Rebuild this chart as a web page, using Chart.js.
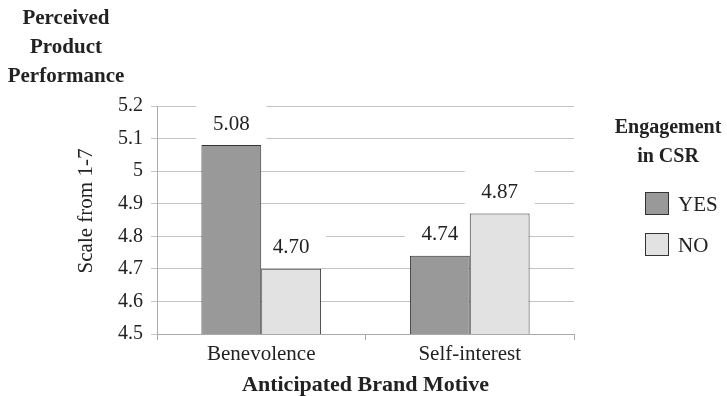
<!DOCTYPE html>
<html>
<head>
<meta charset="utf-8">
<script src="https://cdn.jsdelivr.net/npm/chart.js@4/dist/chart.umd.min.js"></script>
<style>
  html, body { margin: 0; padding: 0; background: #fff; }
  #wrap { width: 727px; height: 396px; position: relative; }
</style>
</head>
<body>
<div id="wrap"><canvas id="c" width="727" height="396"></canvas></div>
<script>
// Brand motive categories and mean perceived performance per CSR group
const categories = ['Benevolence', 'Self-interest'];
const yesValues = [5.08, 4.74];
const noValues = [4.70, 4.87];
const seriesNames = ['YES', 'NO'];
const yTicks = [4.5, 4.6, 4.7, 4.8, 4.9, 5, 5.1, 5.2];

const SERIF = '"Liberation Serif", "Times New Roman", serif';

// Value labels: white backing boxes go under the bars, text goes on top
const valueLabels = {
  id: 'valueLabels',
  beforeDatasetsDraw(chart) {
    const ctx = chart.ctx;
    ctx.save();
    ctx.fillStyle = '#fff';
    chart.data.datasets.forEach((ds, di) => {
      chart.getDatasetMeta(di).data.forEach(bar => {
        ctx.fillRect(bar.x - 35, bar.y - 46, 70, 45);
      });
    });
    ctx.restore();
  },
  afterDatasetsDraw(chart) {
    const ctx = chart.ctx;
    ctx.save();
    ctx.font = '21px ' + SERIF;
    ctx.textAlign = 'center';
    ctx.textBaseline = 'middle';
    ctx.fillStyle = '#222';
    chart.data.datasets.forEach((ds, di) => {
      chart.getDatasetMeta(di).data.forEach((bar, i) => {
        ctx.fillText(ds.data[i].toFixed(2), bar.x, bar.y - 21);
      });
    });
    ctx.restore();
  }
};

// Titles, axis captions and legend
const annotations = {
  id: 'annotations',
  afterDraw(chart) {
    const ctx = chart.ctx;
    const area = chart.chartArea;
    ctx.save();
    ctx.fillStyle = '#222';
    ctx.textAlign = 'center';
    ctx.textBaseline = 'middle';
    ctx.font = 'bold 21px ' + SERIF;
    ['Perceived', 'Product', 'Performance'].forEach((t, i) => ctx.fillText(t, 66, 19 + i * 29));

    ctx.font = 'bold 22px ' + SERIF;
    ctx.fillText('Anticipated Brand Motive', (area.left + area.right) / 2, 385);

    ctx.save();
    ctx.translate(86, 211);
    ctx.rotate(-Math.PI / 2);
    ctx.font = '21px ' + SERIF;
    ctx.fillText('Scale from 1-7', 0, 0);
    ctx.restore();

    ctx.font = 'bold 20px ' + SERIF;
    ctx.fillText('Engagement', 668, 128);
    ctx.fillText('in CSR', 668, 157);

    ctx.textAlign = 'left';
    ctx.font = '21px ' + SERIF;
    chart.data.datasets.forEach((ds, i) => {
      const y = 192 + i * 41;
      ctx.fillStyle = ds.backgroundColor;
      ctx.fillRect(645, y, 24, 23);
      ctx.strokeStyle = '#333';
      ctx.lineWidth = 1;
      ctx.strokeRect(645.5, y + 0.5, 23, 22);
      ctx.fillStyle = '#222';
      ctx.fillText(seriesNames[i], 678, y + 13);
    });
    ctx.restore();
  }
};

new Chart(document.getElementById('c'), {
  type: 'bar',
  data: {
    labels: categories,
    datasets: [
      { label: seriesNames[0], data: yesValues, backgroundColor: '#999999', borderColor: '#333333', borderWidth: 1 },
      { label: seriesNames[1], data: noValues, backgroundColor: '#e2e2e2', borderColor: '#333333', borderWidth: 1 }
    ]
  },
  options: {
    responsive: false,
    animation: false,
    devicePixelRatio: 1,
    layout: { padding: { top: 106, right: 153, left: 0, bottom: 0 } },
    categoryPercentage: 0.574,
    barPercentage: 1,
    plugins: { legend: { display: false }, tooltip: { enabled: false } },
    scales: {
      x: {
        grid: { drawOnChartArea: false, drawTicks: true, tickLength: 6, color: '#aaaaaa' },
        border: { color: '#aaaaaa' },
        ticks: { color: '#222', font: { family: SERIF, size: 21 }, padding: 2 },
        afterFit(s) { s.height = 62; }
      },
      y: {
        min: 4.5,
        max: 5.2,
        afterBuildTicks(s) { s.ticks = yTicks.map(v => ({ value: v })); },
        grid: { color: '#c4c4c4', tickLength: 6 },
        border: { color: '#aaaaaa' },
        ticks: {
          color: '#222',
          font: { family: SERIF, size: 20 },
          padding: 8,
          callback: v => String(Number(v.toFixed(1)))
        },
        afterFit(s) { s.width = 157; }
      }
    }
  },
  plugins: [valueLabels, annotations]
});
</script>
</body>
</html>
